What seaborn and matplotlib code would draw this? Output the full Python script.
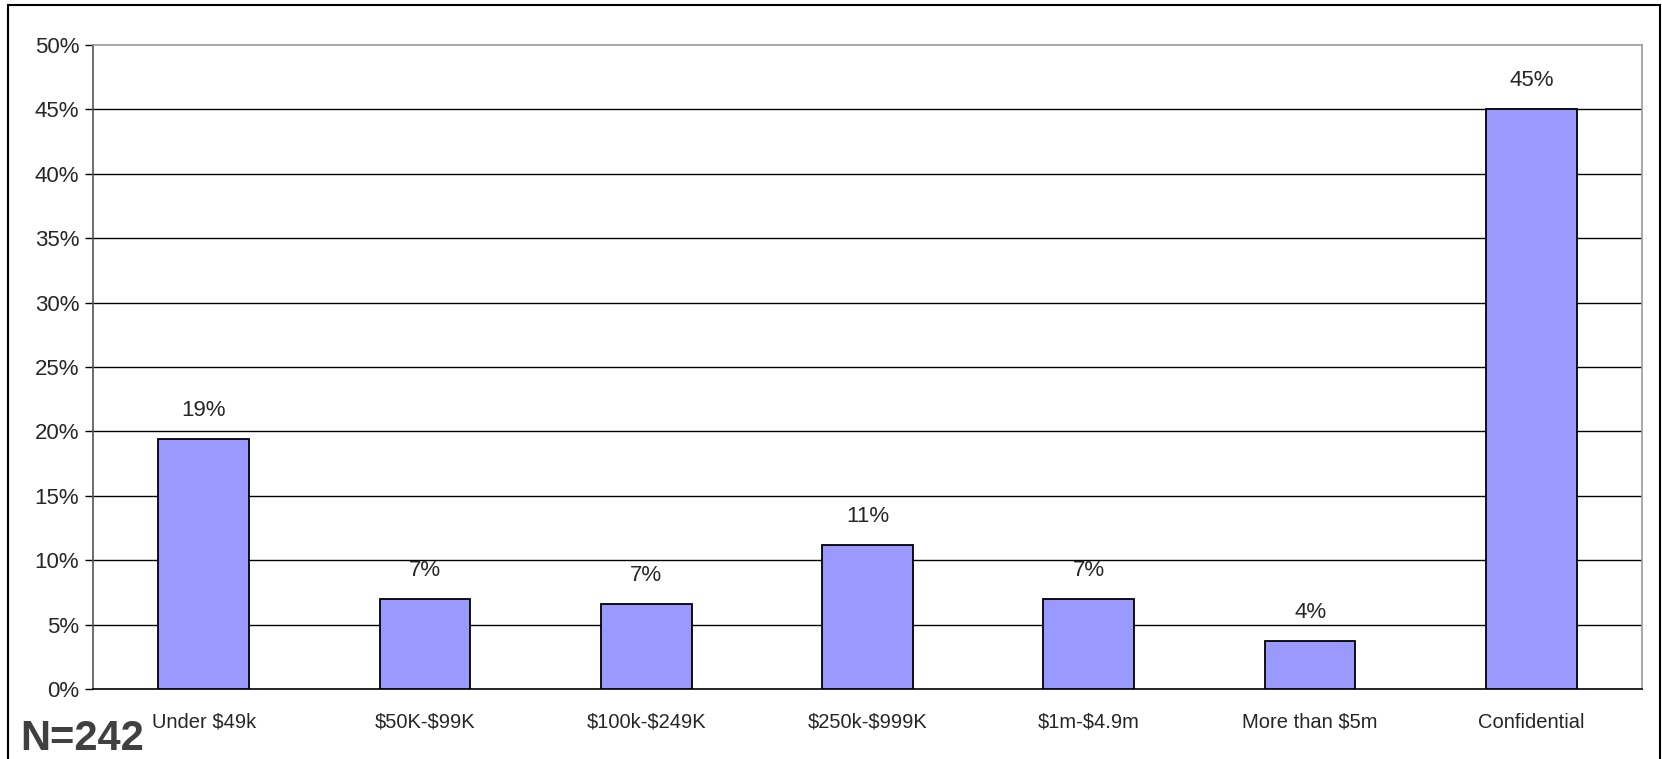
import matplotlib.pyplot as plt
import matplotlib.patches as mpatches
import numpy as np
import pandas as pd
import seaborn as sns

# ============================================================
#  Data
# ============================================================

categories = ['Under $49k', '$50K-$99K', '$100k-$249K', '$250k-$999K',
              '$1m-$4.9m', 'More than $5m', 'Confidential']
values = [19.4, 7.0, 6.6, 11.2, 7.0, 3.7, 45.0]
labels = ['19%', '7%', '7%', '11%', '7%', '4%', '45%']
y_ticks = [0, 5, 10, 15, 20, 25, 30, 35, 40, 45, 50]
sample_note = 'N=242'

# ============================================================
#  Plot
# ============================================================

sns.set_style('white')
plt.rcParams['font.family'] = ['Liberation Sans', 'DejaVu Sans']
plt.rcParams['text.parse_math'] = False

df = pd.DataFrame({'category': categories, 'value': values})

fig = plt.figure(figsize=(16.62, 7.59), dpi=100)
ax = fig.add_axes([93 / 1662, 1 - 689 / 759, (1642 - 93) / 1662, (689 - 45) / 759])

sns.barplot(data=df, x='category', y='value', color='#9999FF', saturation=1,
            width=0.41, edgecolor='black', linewidth=1.3, ax=ax, zorder=3)

ax.set_ylim(0, 50)
ax.set_xlim(-0.5, len(categories) - 0.5)
ax.set_yticks(y_ticks)
ax.set_yticklabels([f'{t}%' for t in y_ticks], fontsize=16)
ax.set_xlabel('')
ax.set_ylabel('')

# horizontal gridlines
for t in y_ticks[1:-1]:
    ax.axhline(t, color='black', lw=1, zorder=1)

# category separators as minor ticks
ax.set_xticks(np.arange(-0.5, len(categories)), minor=True)
ax.tick_params(axis='x', which='major', length=0, pad=17, labelsize=14.5)
ax.tick_params(axis='x', which='minor', length=6, width=1, color='black', direction='out')
ax.tick_params(axis='y', length=6, width=1, color='black', direction='out', pad=4)
ax.tick_params(axis='both', bottom=True, left=True)

for side in ['top', 'right']:
    ax.spines[side].set_color('#999999')
    ax.spines[side].set_linewidth(1.2)
ax.spines['left'].set_color('#555555')
ax.spines['left'].set_linewidth(1.2)
ax.spines['bottom'].set_color('black')
ax.spines['bottom'].set_linewidth(1.2)

# value labels
for i, (v, lab) in enumerate(zip(values, labels)):
    ax.annotate(lab, (i, v), xytext=(0, 13), textcoords='offset points',
                ha='center', va='bottom', fontsize=16)

fig.text(20 / 1662, 1 - 750 / 759, sample_note, fontsize=30, fontweight='bold',
         color='#404040', ha='left', va='baseline')

# outer border
fig.patches.append(mpatches.Rectangle((8 / 1662, -0.01), (1660 - 8) / 1662, 1 - 5 / 759 + 0.01,
                                      transform=fig.transFigure, fill=False,
                                      edgecolor='black', lw=1.5))

fig.savefig('out.png', dpi=100)
